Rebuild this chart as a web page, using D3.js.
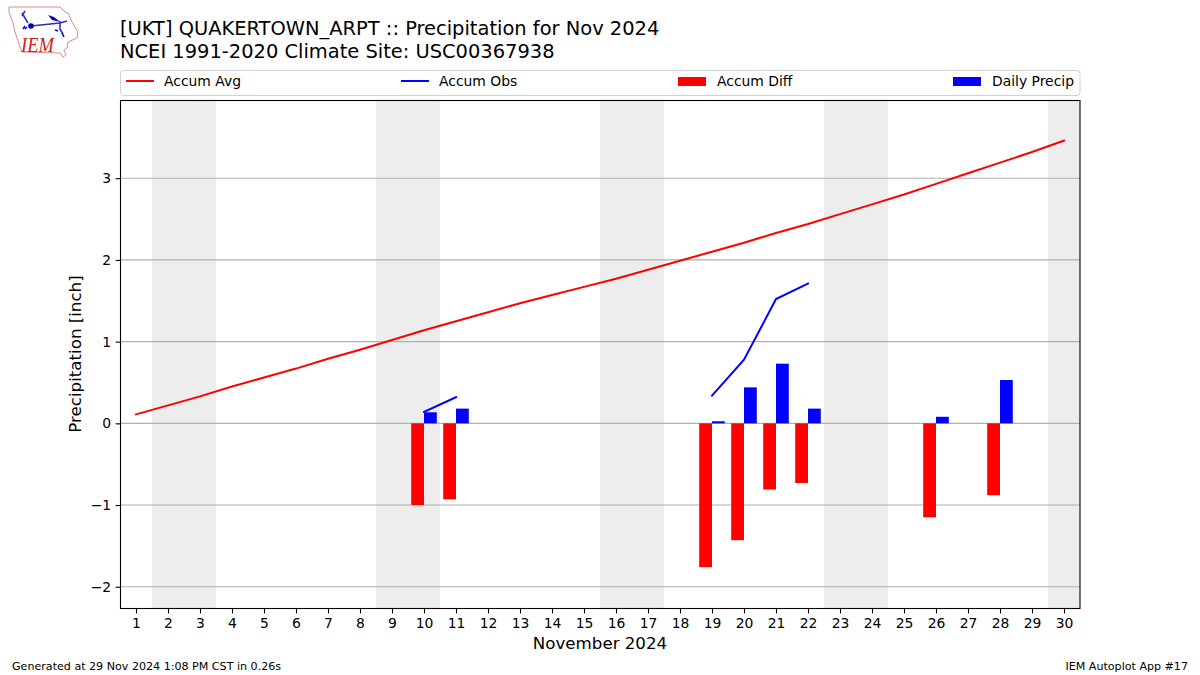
<!DOCTYPE html>
<html><head><meta charset="utf-8">
<script src="https://cdn.jsdelivr.net/npm/d3@7"></script>
<style>html,body{margin:0;padding:0;background:#fff}svg{display:block}text{font-family:"DejaVu Sans",sans-serif;fill:#000}</style>
</head><body><svg id="c" width="1200" height="675"></svg>
<script>
const days = d3.range(1, 31);
const accumAvg = [0.11,0.22,0.33,0.45,0.56,0.67,0.79,0.90,1.02,1.14,1.25,1.36,1.47,1.57,1.67,1.77,1.88,1.99,2.10,2.21,2.33,2.44,2.56,2.68,2.80,2.93,3.06,3.19,3.32,3.46];
const obsDays = [10,11,19,20,21,22];
const accumObs = [0.14,0.32,0.34,0.78,1.52,1.71];
const obsBreakAfter = [11];
const diffDays = [10,11,19,20,21,22,26,28];
const accumDiff = [-1.00,-0.93,-1.76,-1.43,-0.81,-0.73,-1.15,-0.88];
const precipDays = [10,11,19,20,21,22,26,28];
const dailyPrecip = [0.135,0.18,0.025,0.44,0.73,0.18,0.08,0.53];
const weekendStart = [1.5,8.5,15.5,22.5,29.5];
const weekendEnd = [3.5,10.5,17.5,24.5,30.5];
const yTicks = [-2,-1,0,1,2,3];
const titleLines = ["[UKT] QUAKERTOWN_ARPT :: Precipitation for Nov 2024","NCEI 1991-2020 Climate Site: USC00367938"];
const legendLabels = ["Accum Avg","Accum Obs","Accum Diff","Daily Precip"];
const RED="#ff0000", BLUE="#0000ff";

const svg=d3.select("#c");
const L=120.5,R=1080,T=100,B=608;
const x=d3.scaleLinear().domain([0.5,30.5]).range([120,1080]);
const y=d3.scaleLinear().domain([-2.26,3.957]).range([B,T]);
const barW=x(0.4)-x(0);

svg.append("g").selectAll("rect").data(weekendStart).join("rect")
 .attr("x",d=>x(d)).attr("width",(d,i)=>x(weekendEnd[i])-x(d))
 .attr("y",T).attr("height",B-T).attr("fill","#ededed");
svg.append("g").selectAll("line").data(yTicks).join("line")
 .attr("x1",L).attr("x2",R).attr("y1",d=>y(d)).attr("y2",d=>y(d))
 .attr("stroke","#b0b0b0").attr("stroke-width",1.1);
svg.append("g").selectAll("rect").data(diffDays).join("rect")
 .attr("x",d=>x(d)-barW).attr("width",barW)
 .attr("y",y(0)).attr("height",(d,i)=>y(accumDiff[i])-y(0)).attr("fill",RED);
svg.append("g").selectAll("rect").data(precipDays).join("rect")
 .attr("x",d=>x(d)).attr("width",barW)
 .attr("y",(d,i)=>y(dailyPrecip[i])).attr("height",(d,i)=>y(0)-y(dailyPrecip[i])).attr("fill",BLUE);
const line=d3.line().x(d=>x(d[0])).y(d=>y(d[1]));
svg.append("path").attr("d",line(days.map((d,i)=>[d,accumAvg[i]])))
 .attr("fill","none").attr("stroke",RED).attr("stroke-width",2).attr("stroke-linecap","square");
const segA=[],segB=[];
obsDays.forEach((d,i)=>{(d<=obsBreakAfter[0]?segA:segB).push([d,accumObs[i]]);});
[segA,segB].forEach(s=>svg.append("path").attr("d",line(s))
 .attr("fill","none").attr("stroke",BLUE).attr("stroke-width",2).attr("stroke-linecap","square"));
svg.append("rect").attr("x",L).attr("y",T+0.5).attr("width",R-L).attr("height",B-T)
 .attr("fill","none").attr("stroke","#000").attr("stroke-width",1.1);
const ax=svg.append("g").attr("transform",`translate(0,${B+0.5})`)
 .call(d3.axisBottom(x).tickValues(days).tickFormat(d3.format("d")).tickSize(4.9).tickPadding(4.5));
const ay=svg.append("g").attr("transform",`translate(${L},0)`)
 .call(d3.axisLeft(y).tickValues(yTicks).tickFormat(d=>d<0?"\u2212"+Math.abs(d):d).tickSize(4.9).tickPadding(4.5));
[ax,ay].forEach(g=>{g.select(".domain").remove();g.selectAll("text").attr("font-size",13.9).style("font-family",'"DejaVu Sans",sans-serif');g.selectAll("line").attr("stroke","#000").attr("stroke-width",1.1);});
svg.append("text").attr("x",600).attr("y",649).attr("text-anchor","middle").attr("font-size",16.67).text("November 2024");
svg.append("text").attr("transform","translate(80.5,354) rotate(-90)").attr("text-anchor","middle").attr("font-size",16.67).text("Precipitation [inch]");
svg.selectAll(".t").data(titleLines).join("text").attr("class","t").attr("x",120).attr("y",(d,i)=>35+i*23).attr("font-size",19.44).text(d=>d);
const lg=svg.append("g");
lg.append("rect").attr("x",120.5).attr("y",70.5).attr("width",959.5).attr("height",25).attr("rx",3).attr("fill","#fff").attr("stroke","#d0d0d0").attr("stroke-width",1);
const lx=[126,401,678,953], tx=[164,439,717,992];
legendLabels.forEach((t,i)=>{
 if(i<2) lg.append("line").attr("x1",lx[i]).attr("x2",lx[i]+28).attr("y1",81).attr("y2",81).attr("stroke",i==0?RED:BLUE).attr("stroke-width",2);
 else lg.append("rect").attr("x",lx[i]).attr("y",77).attr("width",28).attr("height",9).attr("fill",i==2?RED:BLUE);
 lg.append("text").attr("x",tx[i]).attr("y",86).attr("font-size",13.9).text(t);
});
svg.append("text").attr("x",12).attr("y",670).attr("font-size",11.1).text("Generated at 29 Nov 2024 1:08 PM CST in 0.26s");
svg.append("text").attr("x",1188).attr("y",670).attr("text-anchor","end").attr("font-size",11.1).text("IEM Autoplot App #17");
const logo=svg.append("g");
logo.append("path").attr("d","M9,7 L60,7 L65,12 L68,13 L72,22 L78,32 L77,38 L68,42 L67,48 L64,50 L66,55 L63,57 L60,53 L22,52 L20,47 L15,32 L13,23 L9,12 Z")
 .attr("fill","#fff").attr("stroke","#e08a8a").attr("stroke-width",1);
logo.append("path").attr("d","M31,26 L60,23 M60,21 L60,30 M60,23 L67,21 M22,13 L28,23 M22,16 L25,11 M60,29 L63,34")
 .attr("fill","none").attr("stroke","#2a2ad0").attr("stroke-width",1.5);
logo.append("circle").attr("cx",31).attr("cy",26).attr("r",2.8).attr("fill","#0000c0");
logo.append("path").attr("d","M48,15 L54,17 L60,22 L52,20 Z").attr("fill","#0000c0");
logo.append("path").attr("d","M23,29 L25,26 M25,29 L27,27 M55,30 L58,31 M62,33 L64,37").attr("stroke","#0000c0").attr("stroke-width",1.5);
logo.append("text").attr("x",21).attr("y",52).attr("font-size",22).attr("font-style","italic").attr("textLength",33).attr("lengthAdjust","spacingAndGlyphs").style("font-family",'"Liberation Serif",serif').style("fill","#d02020").text("IEM");
</script></body></html>
